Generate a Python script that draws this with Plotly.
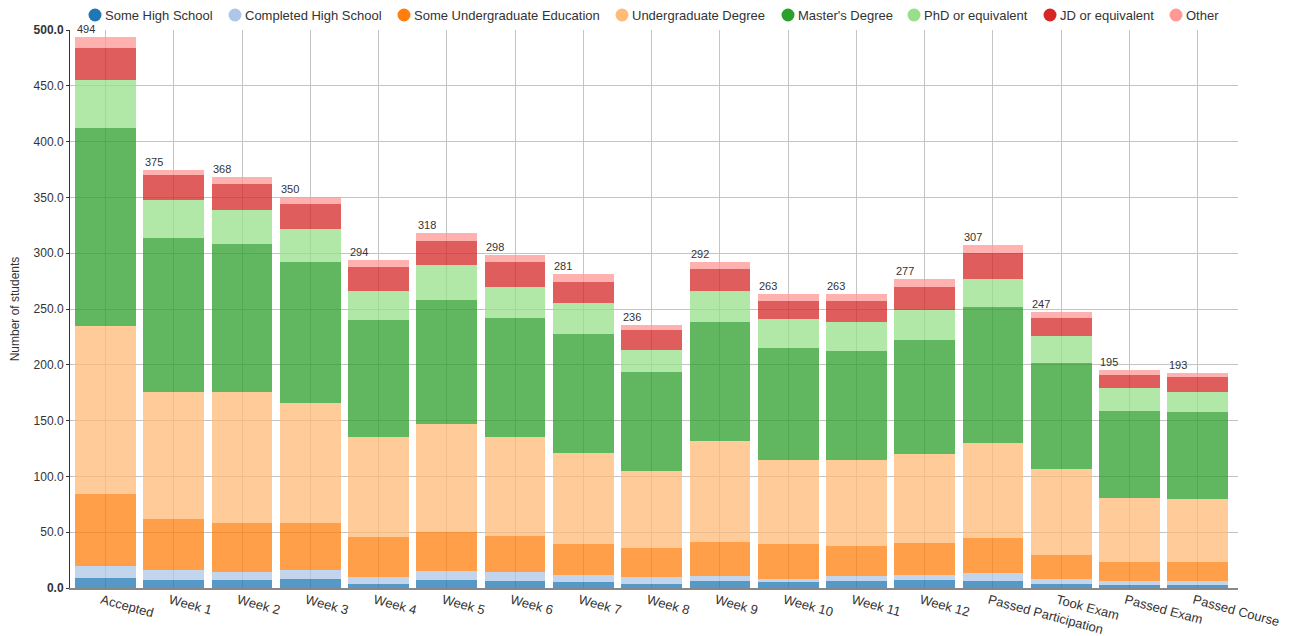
import plotly.graph_objects as go

categories = ["Accepted", "Week 1", "Week 2", "Week 3", "Week 4", "Week 5", "Week 6",
              "Week 7", "Week 8", "Week 9", "Week 10", "Week 11", "Week 12",
              "Passed Participation", "Took Exam", "Passed Exam", "Passed Course"]

some_high_school = [9, 7, 7, 8, 4, 7, 6, 5, 4, 6, 5, 6, 7, 6, 4, 3, 3]
completed_high_school = [11, 9, 7, 8, 6, 8, 8, 7, 6, 5, 3, 5, 5, 7, 4, 3, 3]
some_undergraduate = [64, 46, 44, 42, 36, 35, 33, 27, 26, 30, 31, 27, 28, 32, 22, 17, 17]
undergraduate_degree = [151, 114, 118, 108, 89, 97, 88, 82, 69, 91, 76, 77, 80, 85, 77, 58, 57]
masters_degree = [177, 138, 132, 126, 105, 111, 107, 107, 89, 106, 100, 97, 102, 122, 95, 78, 78]
phd = [43, 34, 31, 30, 26, 31, 28, 27, 19, 28, 26, 26, 27, 25, 24, 20, 18]
jd = [29, 22, 23, 22, 22, 22, 22, 19, 18, 20, 16, 19, 21, 23, 16, 12, 13]
other = [10, 5, 6, 6, 6, 7, 6, 7, 5, 6, 6, 6, 7, 7, 5, 4, 4]

series_names = ["Some High School", "Completed High School", "Some Undergraduate Education",
                "Undergraduate Degree", "Master's Degree", "PhD or equivalent",
                "JD or equivalent", "Other"]
series_values = [some_high_school, completed_high_school, some_undergraduate,
                 undergraduate_degree, masters_degree, phd, jd, other]
colors = ["#1f77b4", "#aec7e8", "#ff7f0e", "#ffbb78", "#2ca02c", "#98df8a", "#d62728", "#ff9896"]

y_ticks = [0, 50, 100, 150, 200, 250, 300, 350, 400, 450, 500]

# layout constants (pixels; the page body adds an 8px offset)
OFF = 8
W, H = 1289 - 2 * OFF, 636 - OFF
PLOT_L, PLOT_T, PLOT_R, PLOT_B = 70, 30, 1238, 588  # target on-screen plot area
ML, MT = PLOT_L - OFF, PLOT_T - OFF
MR, MB = W - (PLOT_R - OFF), H - (PLOT_B - OFF)
PW, PH = PLOT_R - PLOT_L, PLOT_B - PLOT_T
legend_circle_px = [95, 235, 404, 622, 788, 914, 1050, 1176]  # on-screen legend symbol centres
legend_y_px = 15

fig = go.Figure()
for name, vals, col in zip(series_names, series_values, colors):
    fig.add_trace(go.Bar(x=categories, y=vals, name=name, marker=dict(color=col, line=dict(width=0)),
                         opacity=0.75, showlegend=False, hoverinfo="x+y+name"))

totals = [sum(v) for v in zip(*series_values)]
for c, t in zip(categories, totals):
    fig.add_annotation(x=c, y=t, text=str(t), showarrow=False, xanchor="left", yanchor="bottom",
                       xshift=-31, yshift=0, font=dict(size=11, color="#333333"))

# legend (circle symbols + labels) above the plot
ly = (PLOT_B - legend_y_px) / PH
for name, col, cx in zip(series_names, colors, legend_circle_px):
    px_ = (cx - PLOT_L) / PW
    fig.add_shape(type="circle", xref="paper", yref="paper", xsizemode="pixel", ysizemode="pixel",
                  xanchor=px_, yanchor=ly, x0=-6.5, x1=6.5, y0=-6.5, y1=6.5,
                  fillcolor=col, line=dict(width=0), layer="above")
    fig.add_annotation(xref="paper", yref="paper", x=(cx + 8 - PLOT_L) / PW, y=ly, text=name,
                       showarrow=False, xanchor="left", yanchor="middle",
                       font=dict(size=13, color="#333333"))

ticktext = []
for v in y_ticks:
    s = f"{v:.1f}"
    if v in (y_ticks[0], y_ticks[-1]):
        s = f"<b>{s}</b>"
    ticktext.append(s)

fig.update_layout(
    barmode="stack",
    bargap=0.11,
    width=W, height=H,
    margin=dict(l=ML, r=MR, t=MT, b=MB),
    plot_bgcolor="white", paper_bgcolor="white",
    showlegend=False,
    font=dict(family="Liberation Sans, Arial, sans-serif", size=12, color="#333333"),
    xaxis=dict(type="category", range=[-0.52, 16.59], tickangle=15, showgrid=True,
               gridcolor="#c4c4c4", gridwidth=1, showline=True, linecolor="#888888",
               linewidth=2, ticks="", tickfont=dict(size=13, color="#333333"),
               ticklabelshift=-4, ticklabelstandoff=-2, automargin=False),
    yaxis=dict(range=[0, 500], tickvals=y_ticks, ticktext=ticktext, showgrid=True,
               gridcolor="#c4c4c4", gridwidth=1, showline=True, linecolor="#333333",
               linewidth=1, ticks="outside", ticklen=3, tickcolor="#333333",
               zeroline=False, tickfont=dict(size=12, color="#333333"), automargin=False,
               title=dict(text="Number of students", font=dict(size=12, color="#333333"),
                          standoff=12)),
)

fig.write_html("out.html")
